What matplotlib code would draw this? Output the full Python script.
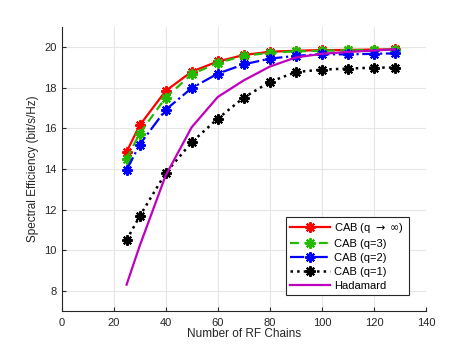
import matplotlib
matplotlib.use("Agg")
import matplotlib.pyplot as plt

plt.rcParams['font.family'] = ['Liberation Sans', 'DejaVu Sans']

# data
rf_chains = [25, 30, 40, 50, 60, 70, 80, 90, 100, 110, 120, 128]
cab_inf = [14.85, 16.15, 17.85, 18.8, 19.3, 19.62, 19.78, 19.83, 19.86, 19.87, 19.89, 19.9]
cab_q3 = [14.5, 15.75, 17.52, 18.67, 19.23, 19.58, 19.73, 19.8, 19.83, 19.85, 19.87, 19.88]
cab_q2 = [13.95, 15.2, 16.92, 17.99, 18.7, 19.16, 19.44, 19.58, 19.66, 19.65, 19.68, 19.7]
cab_q1 = [10.5, 11.67, 13.8, 15.32, 16.48, 17.52, 18.29, 18.78, 18.9, 18.95, 19.0, 19.0]
hadamard = [8.3, 10.2, 13.68, 16.06, 17.55, 18.37, 19.05, 19.5, 19.68, 19.77, 19.84, 19.9]

xticks = [0, 20, 40, 60, 80, 100, 120, 140]
yticks = [8, 10, 12, 14, 16, 18, 20]

fig = plt.figure(figsize=(4.71, 3.49), dpi=100)
ax = fig.add_axes([0.1306, 0.1089, 0.7739, 0.8137])

star = (8, 2, 0)
mk = dict(marker=star, ms=7.5, mew=1.5)
ax.plot(rf_chains, cab_inf, color='#ff0000', ls='-', lw=1.6,
        label='CAB (q $\\rightarrow$ $\\infty$)', **mk)
ax.plot(rf_chains, cab_q3, color='#22bb00', ls=(0, (4, 2.5)), lw=1.6, label='CAB (q=3)', **mk)
ax.plot(rf_chains, cab_q2, color='#0000ff', ls='-.', lw=1.6, label='CAB (q=2)', **mk)
ax.plot(rf_chains, cab_q1, color='#000000', ls=':', lw=1.8, label='CAB (q=1)', **mk)
ax.plot(rf_chains, hadamard, color='#bf00bf', ls='-', lw=1.6, label='Hadamard')

ax.set_xlim(0, 140)
ax.set_ylim(7, 21)
ax.set_xticks(xticks)
ax.set_yticks(yticks)
ax.tick_params(direction='in', length=3, labelsize=8, colors='#262626', width=0.8)
ax.tick_params(axis='x', pad=5)
ax.grid(True, color='#e6e6e6', lw=0.8)
ax.set_axisbelow(True)
for s in ['top', 'right']:
    ax.spines[s].set_visible(False)
for s in ['left', 'bottom']:
    ax.spines[s].set_color('#262626')
    ax.spines[s].set_linewidth(0.8)

ax.set_xlabel('Number of RF Chains', fontsize=8.5, color='#262626', labelpad=0)
ax.set_ylabel('Spectral Efficiency (bit/s/Hz)', fontsize=8.5, color='#262626', labelpad=4)

leg = ax.legend(loc='lower right', bbox_to_anchor=(0.953, 0.056), fontsize=8,
                fancybox=False, framealpha=1, edgecolor='#262626',
                handlelength=3.6, borderpad=0.4, labelspacing=0.35,
                handletextpad=0.4, borderaxespad=0)
leg.get_frame().set_linewidth(0.8)

fig.savefig('out.png', dpi=100)
